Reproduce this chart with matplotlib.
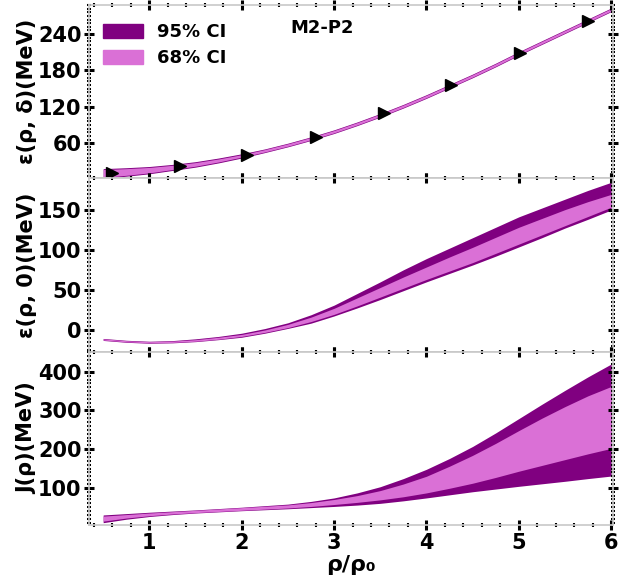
import numpy as np
import matplotlib.pyplot as plt
from matplotlib.patches import Patch
from matplotlib.ticker import MultipleLocator, AutoMinorLocator

plt.rcParams['font.family'] = 'DejaVu Sans'
plt.rcParams['font.weight'] = 'bold'

# density grid rho/rho0
rho = [0.5, 0.75, 1.0, 1.25, 1.5, 1.75, 2.0, 2.25, 2.5, 2.75, 3.0, 3.25,
       3.5, 3.75, 4.0, 4.25, 4.5, 4.75, 5.0, 5.25, 5.5, 5.75, 6.0]

# eps(rho, delta) bands
top_95_lo = [2, 5.5, 9.5, 15, 20.5, 27.5, 35.5, 44.5, 54, 64.5, 76, 89,
             103, 118, 134, 151, 168, 186, 205, 223, 241, 259, 277]
top_95_hi = [18, 19.5, 21.5, 25, 29.5, 35.5, 42.5, 50.5, 60, 70.5, 82, 95,
             109, 124, 140, 157, 174, 192, 211, 229, 247, 265, 283]
top_68_lo = [3.5, 7, 11, 16.5, 22, 29, 37, 45.5, 55, 65.5, 77, 90,
             104, 119, 135, 152, 169, 187, 206, 224, 242, 260, 278]
top_68_hi = [16.5, 18, 20, 23.5, 28, 34, 41, 49.5, 59, 69.5, 81, 94,
             108, 123, 139, 156, 173, 191, 210, 228, 246, 264, 282]
mk_x = [0.6, 1.33, 2.06, 2.8, 3.54, 4.27, 5.01, 5.75]
mk_y = [11, 22, 41, 70, 109, 156, 208, 262]

# eps(rho, 0) bands
mid_95_lo = [-13, -15.3, -16.5, -16, -14.5, -12, -9, -4, 2, 8.5, 17.5, 27.5,
             38, 49, 60, 70.5, 81, 92, 103.5, 115, 127, 138, 149.5]
mid_95_hi = [-10.5, -12.8, -14, -13.2, -11, -8, -4, 1.8, 9, 19, 31, 45.5,
             60, 75, 89, 102, 115, 128, 141, 152, 163, 174, 184]
mid_68_lo = [-12.5, -14.8, -16, -15.5, -14, -11.5, -8, -3, 3, 10.5, 19.5, 30,
             41, 52, 63, 73.5, 84, 95.5, 107, 118.5, 130, 141.5, 153]
mid_68_hi = [-11, -13.3, -14.5, -13.8, -12, -9, -5.5, 0, 7, 16, 27, 40,
             53, 66, 78.5, 91, 103, 115.5, 128, 139, 150, 160, 169]

# J(rho) bands
bot_95_lo = [10, 19, 26, 31, 35, 38, 41, 43.5, 46, 49, 52, 55.5,
             60, 66.5, 74, 82, 90, 97, 104, 110.5, 117, 124, 130.5]
bot_95_hi = [30, 33.5, 37, 40, 43, 46.5, 50, 54, 58, 65, 74, 87,
             103, 124, 148, 176, 207, 242, 279, 316, 352, 387, 420]
bot_68_lo = [14, 22, 28, 32.5, 36, 39, 42, 45, 48, 52, 57, 62.5,
             69, 77, 87, 99, 112, 127, 143, 158, 173, 188, 202]
bot_68_hi = [27, 31, 35, 38.5, 42, 45.5, 49, 52.5, 56, 62, 70, 80,
             93, 110, 130, 156, 184, 215, 248, 280, 310, 338, 362]

dark = '#800080'
light = '#DA70D6'

fig = plt.figure(figsize=(6.43, 5.8), dpi=100)
gs = fig.add_gridspec(3, 1, left=0.1389, right=0.9533, bottom=0.0948,
                      top=0.9914, hspace=0)
ax1 = fig.add_subplot(gs[0])
ax2 = fig.add_subplot(gs[1], sharex=ax1)
ax3 = fig.add_subplot(gs[2], sharex=ax1)

ax1.fill_between(rho, top_95_lo, top_95_hi, color=dark, lw=0)
ax1.fill_between(rho, top_68_lo, top_68_hi, color=light, lw=0)
ax1.plot(mk_x, mk_y, ls='none', marker='>', color='black', ms=8)

ax2.fill_between(rho, mid_95_lo, mid_95_hi, color=dark, lw=0)
ax2.fill_between(rho, mid_68_lo, mid_68_hi, color=light, lw=0)

ax3.fill_between(rho, bot_95_lo, bot_95_hi, color=dark, lw=0)
ax3.fill_between(rho, bot_68_lo, bot_68_hi, color=light, lw=0)

ax1.set_xlim(0.35, 6.02)
ax1.set_ylim(2, 288)
ax2.set_ylim(-27, 189)
ax3.set_ylim(4, 452)

ax1.yaxis.set_major_locator(MultipleLocator(60))
ax2.yaxis.set_major_locator(MultipleLocator(50))
ax3.yaxis.set_major_locator(MultipleLocator(100))
ax3.xaxis.set_major_locator(MultipleLocator(1))
ax3.xaxis.set_minor_locator(AutoMinorLocator(5))

for ax in (ax1, ax2, ax3):
    ax.yaxis.set_minor_locator(AutoMinorLocator(10))
    for s in ax.spines.values():
        s.set_color('#c8c8c8')
        s.set_linewidth(1.2)
    ax.tick_params(which='both', direction='inout', top=True, right=True,
                   labelsize=15, pad=2)
    ax.tick_params(which='major', length=7, width=2.2)
    ax.tick_params(which='minor', length=3, width=1.5)
for ax in (ax1, ax2):
    ax.tick_params(labelbottom=False)

ax1.set_ylabel('ε(ρ, δ)(MeV)', fontsize=15, fontweight='bold')
ax2.set_ylabel('ε(ρ, 0)(MeV)', fontsize=15, fontweight='bold')
ax3.set_ylabel('J(ρ)(MeV)', fontsize=15, fontweight='bold')
for ax in (ax1, ax2, ax3):
    ax.yaxis.set_label_coords(-0.10, 0.5)
ax3.set_xlabel('ρ/ρ₀', fontsize=16, fontweight='bold', labelpad=2)

handles = [Patch(color=dark, label='95% CI'), Patch(color=light, label='68% CI')]
ax1.legend(handles=handles, loc='upper left', frameon=False, fontsize=13,
           handlelength=2.2, handleheight=0.85, labelspacing=0.45,
           borderaxespad=0.5, bbox_to_anchor=(-0.005, 0.99))
ax1.text(0.384, 0.867, 'M2-P2', transform=ax1.transAxes, fontsize=13,
         fontweight='bold', va='center')

fig.savefig('out.png', dpi=100)
